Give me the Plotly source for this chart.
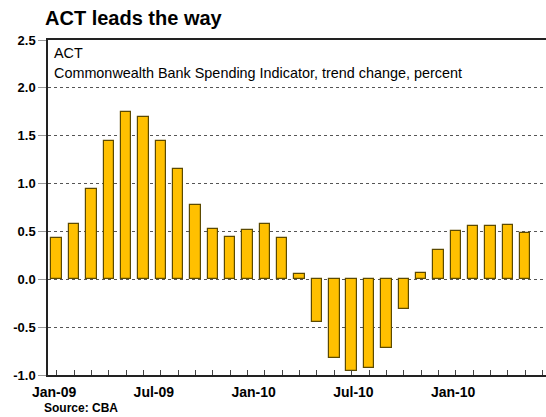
import plotly.graph_objects as go

months = ["Jan-09","Feb-09","Mar-09","Apr-09","May-09","Jun-09","Jul-09","Aug-09","Sep-09","Oct-09","Nov-09","Dec-09",
          "Jan-10","Feb-10","Mar-10","Apr-10","May-10","Jun-10","Jul-10","Aug-10","Sep-10","Oct-10","Nov-10","Dec-10",
          "Jan-11","Feb-11","Mar-11","Apr-11"]
values = [0.43, 0.58, 0.94, 1.45, 1.75, 1.70, 1.45, 1.15, 0.78, 0.53, 0.44, 0.52,
          0.58, 0.43, 0.06, -0.45, -0.82, -0.96, -0.93, -0.72, -0.31, 0.07, 0.31, 0.50,
          0.56, 0.56, 0.57, 0.48]
tick_labels = ["Jan-09", "Jul-09", "Jan-10", "Jul-10", "Jan-10"]
tick_pos = [-0.15, 5.6, 11.35, 17.1, 22.85]
y_ticks = [2.5, 2.0, 1.5, 1.0, 0.5, 0.0, -0.5, -1.0]

idx = list(range(len(values)))
font = "Liberation Sans, Arial, sans-serif"

fig = go.Figure()
fig.add_trace(go.Bar(
    x=idx, y=values, width=0.6, hovertext=months,
    marker=dict(color="#FFC000", line=dict(color="#5C4A00", width=1.2)),
))

fig.update_layout(
    width=546, height=417,
    margin=dict(l=48, r=0, t=40, b=42),
    paper_bgcolor="white", plot_bgcolor="white",
    showlegend=False, bargap=0,
    font=dict(family=font, color="black"),
    xaxis=dict(
        range=[-0.5, 28.2], tickvals=tick_pos, ticktext=tick_labels,
        tickfont=dict(family=font, size=14, color="black", weight="bold"),
        ticks="", showgrid=False, zeroline=False, ticklabelstandoff=3,
        showline=True, linecolor="#222", linewidth=1.5, mirror=True,
        minor=dict(tick0=0, dtick=1, ticks="inside", ticklen=5, tickcolor="#444", showgrid=False),
    ),
    yaxis=dict(
        range=[-1.0, 2.5], tickvals=y_ticks, ticktext=[f"{v:.1f}" for v in y_ticks],
        tickfont=dict(family=font, size=13, color="black", weight="bold"),
        ticks="outside", ticklen=8, tickcolor="#999",
        showgrid=True, gridcolor="#555", griddash="dot", gridwidth=1,
        zeroline=False,
        showline=True, linecolor="#222", linewidth=1.5,
    ),
    annotations=[
        dict(text="<b>ACT leads the way</b>", xref="paper", yref="paper", x=-0.01, y=1.0, yshift=22,
             xanchor="left", yanchor="middle", showarrow=False, font=dict(size=20, family=font)),
        dict(text="ACT", xref="paper", yref="paper", x=0.008, y=1.0, yshift=-13,
             xanchor="left", yanchor="middle", showarrow=False, font=dict(size=14.4, family=font)),
        dict(text="Commonwealth Bank Spending Indicator, trend change, percent", xref="paper", yref="paper",
             x=0.008, y=1.0, yshift=-33, xanchor="left", yanchor="middle", showarrow=False,
             font=dict(size=14.4, family=font)),
        dict(text="<b>Source: CBA</b>", xref="paper", yref="paper", x=-0.012, y=0, yshift=-33,
             xanchor="left", yanchor="middle", showarrow=False, font=dict(size=12, family=font)),
    ],
)

fig.write_html("out.html")
